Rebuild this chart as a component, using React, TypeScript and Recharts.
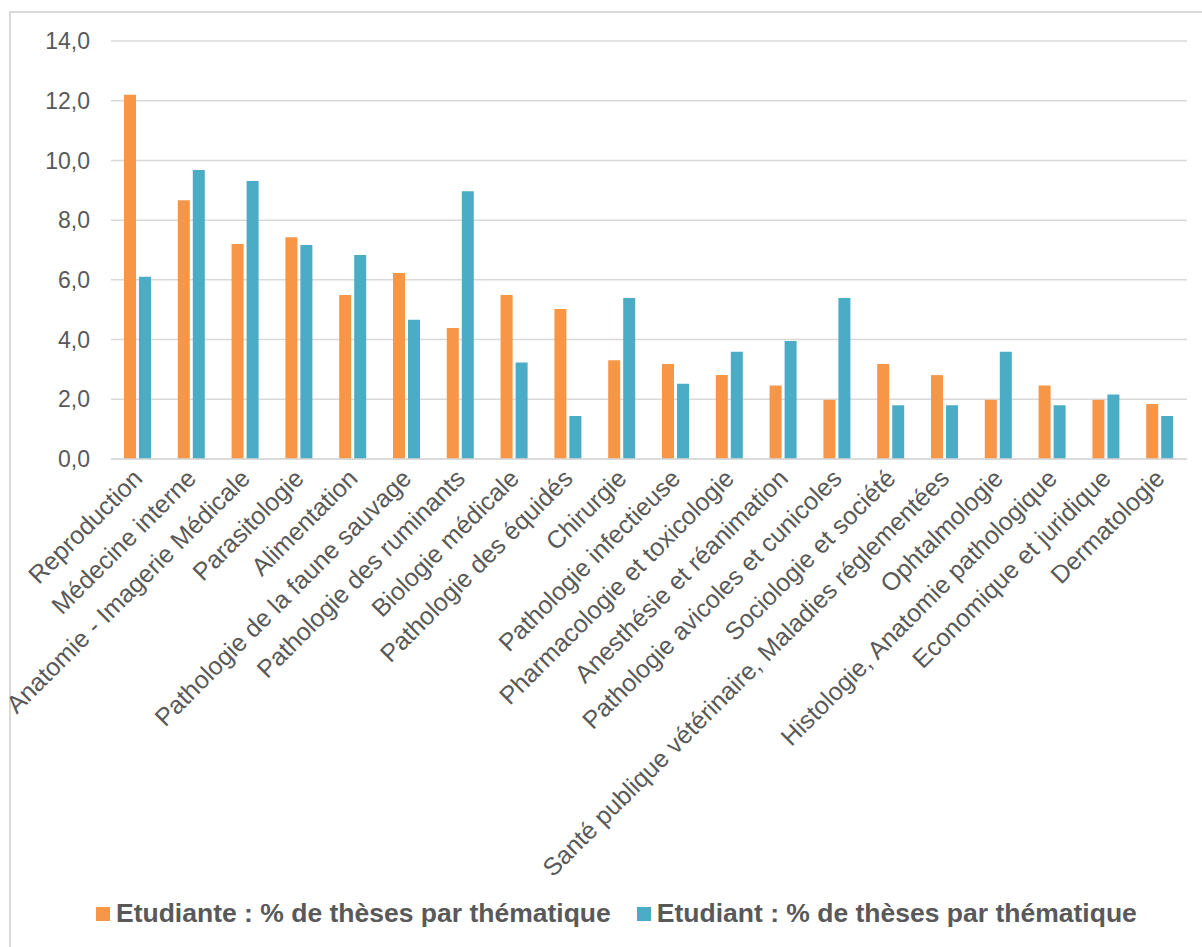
import { Bar, BarChart, CartesianGrid, XAxis, YAxis } from "recharts";

const categories = [
  "Reproduction",
  "Médecine interne",
  "Anatomie - Imagerie Médicale",
  "Parasitologie",
  "Alimentation",
  "Pathologie de la faune sauvage",
  "Pathologie des ruminants",
  "Biologie médicale",
  "Pathologie des équidés",
  "Chirurgie",
  "Pathologie infectieuse",
  "Pharmacologie et toxicologie",
  "Anesthésie et réanimation",
  "Pathologie avicoles et cunicoles",
  "Sociologie et société",
  "Santé publique vétérinaire, Maladies réglementées",
  "Ophtalmologie",
  "Histologie, Anatomie pathologique",
  "Economique et juridique",
  "Dermatologie",
];

const etudiante = [
  12.2, 8.67, 7.2, 7.43, 5.49, 6.23, 4.39, 5.49, 5.02, 3.31, 3.18, 2.81, 2.46,
  1.98, 3.18, 2.81, 1.98, 2.46, 1.98, 1.84,
];

const etudiant = [
  6.1, 9.68, 9.31, 7.17, 6.83, 4.66, 8.97, 3.23, 1.44, 5.39, 2.52, 3.59, 3.95,
  5.39, 1.8, 1.8, 3.59, 1.8, 2.16, 1.44,
];

const yTicks = [0, 2, 4, 6, 8, 10, 12, 14];

const seriesNames = [
  "Etudiante : % de thèses par thématique",
  "Etudiant : % de thèses par thématique",
];

const ORANGE = "#F79646";
const TEAL = "#4BACC6";
const TEXT = "#595959";
const GRID = "#D9D9D9";
const FONT = "'Liberation Sans', Arial, sans-serif";

const data = categories.map((name, i) => ({
  name,
  etudiante: etudiante[i],
  etudiant: etudiant[i],
}));

function AngledTick({ x, y, payload }: any) {
  // end of the label sits just right/below the category centre, rotated -45deg
  const tx = x + 6;
  const ty = y + 19;
  return (
    <text
      x={tx}
      y={ty}
      textAnchor="end"
      fill={TEXT}
      fontSize={25}
      fontFamily={FONT}
      transform={`rotate(-45, ${tx}, ${ty})`}
    >
      {payload.value}
    </text>
  );
}

export default function App() {
  return (
    <div
      style={{
        position: "absolute",
        top: 0,
        left: 0,
        width: 1202,
        height: 947,
        overflow: "hidden",
        background: "#fff",
        fontFamily: FONT,
      }}
    >
      {/* chart frame, only top and left edges visible in the crop */}
      <div style={{ position: "absolute", left: 9, top: 11, right: 0, height: 1.5, background: GRID }} />
      <div style={{ position: "absolute", left: 9, top: 11, bottom: 0, width: 1.5, background: GRID }} />

      <BarChart
        width={1202}
        height={947}
        data={data}
        margin={{ top: 41, right: 15, left: 0, bottom: 0 }}
        barSize={12}
        barGap={3}
        style={{ position: "absolute", top: 0, left: 0 }}
      >
        <CartesianGrid vertical={false} stroke={GRID} strokeWidth={1.5} />
        <XAxis
          dataKey="name"
          height={488}
          interval={0}
          tickLine={false}
          tickSize={0}
          axisLine={{ stroke: GRID, strokeWidth: 1.5 }}
          tick={<AngledTick />}
        />
        <YAxis
          width={111}
          domain={[0, 14]}
          ticks={yTicks}
          tickFormatter={(v: number) => v.toFixed(1).replace(".", ",")}
          tickLine={false}
          tickSize={0}
          tickMargin={21}
          axisLine={false}
          tick={{ fill: TEXT, fontSize: 23, fontFamily: FONT }}
        />
        <Bar dataKey="etudiante" fill={ORANGE} isAnimationActive={false} />
        <Bar dataKey="etudiant" fill={TEAL} isAnimationActive={false} />
      </BarChart>

      <div
        style={{
          position: "absolute",
          left: 96,
          top: 898,
          display: "flex",
          alignItems: "center",
          fontSize: 26.5,
          fontWeight: "bold",
          color: TEXT,
          whiteSpace: "nowrap",
        }}
      >
        {[ORANGE, TEAL].map((c, i) => (
          <div key={c} style={{ display: "flex", alignItems: "center", marginRight: 26 }}>
            <span style={{ width: 14, height: 14, background: c, marginRight: 6, display: "inline-block" }} />
            <span>{seriesNames[i]}</span>
          </div>
        ))}
      </div>
    </div>
  );
}
